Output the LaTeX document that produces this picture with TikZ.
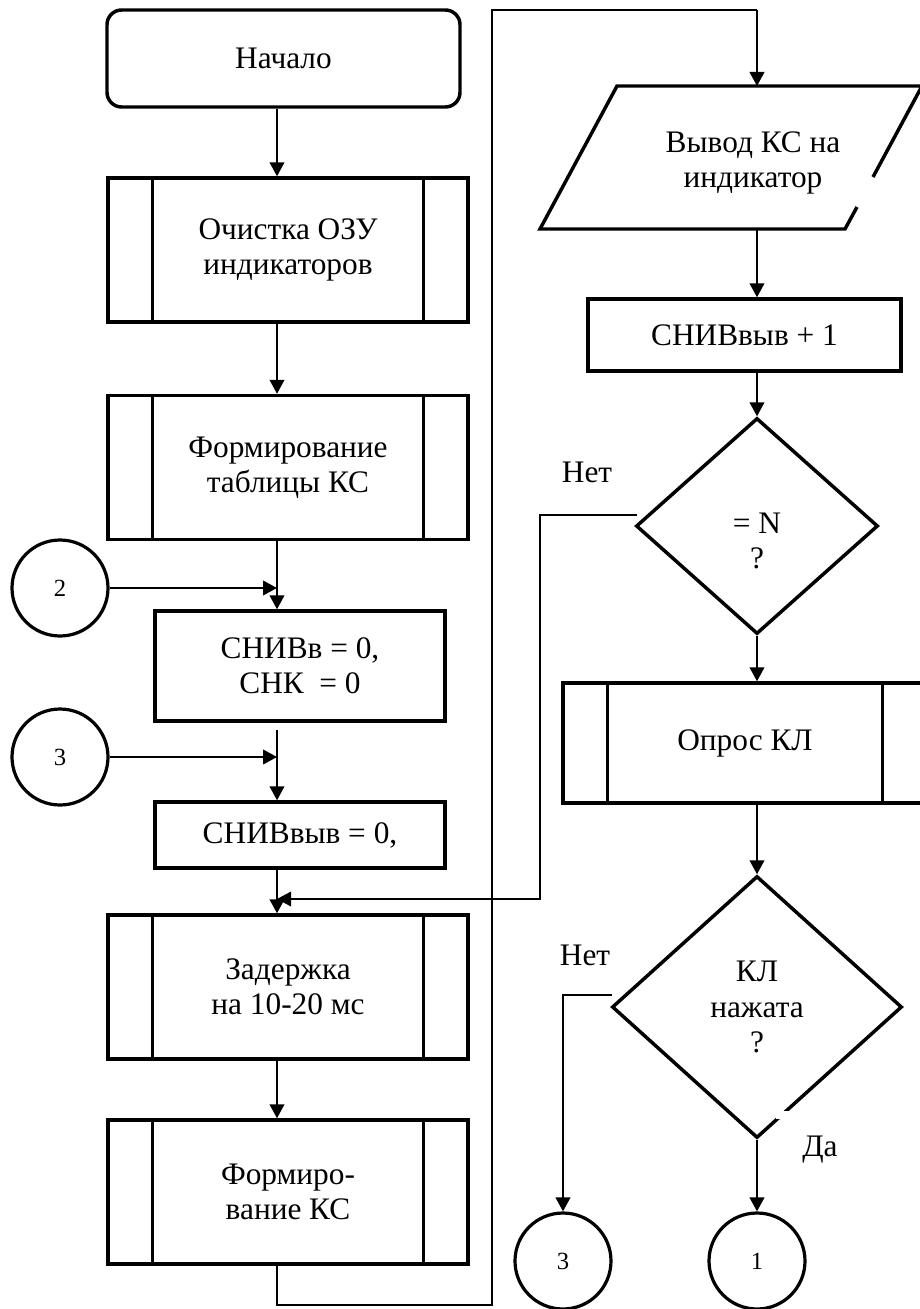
\documentclass[tikz,border=0pt]{standalone}
\usepackage{fontspec}
\setmainfont{Liberation Serif}
\usetikzlibrary{arrows.meta,shapes.geometric}
\begin{document}
\begin{tikzpicture}[x=0.75pt,y=-0.75pt,
  every node/.style={inner sep=0pt, align=center, font=\fontsize{23.5}{26.5}\selectfont},
  sz/.style 2 args={minimum width=#1*0.75pt, minimum height=#2*0.75pt},
  bx/.style={draw, line width=2.6pt},
  terminal/.style={bx, rounded corners=11pt},
  procbox/.style={bx, rectangle},
  subbox/.style={procbox, path picture={
     \draw[line width=2.6pt]
       ([xshift=33.5pt]path picture bounding box.north west) -- ([xshift=33.5pt]path picture bounding box.south west)
       ([xshift=-33.5pt]path picture bounding box.north east) -- ([xshift=-33.5pt]path picture bounding box.south east);}},
  decision/.style={bx, diamond},
  connector/.style={draw, circle, line width=2.4pt, minimum size=96*0.75pt, font=\fontsize{18.5}{20}\selectfont},
  flow/.style={line width=1.5pt, -{Triangle[width=11pt,length=10.5pt]}},
  loopline/.style={line width=1pt},
  looparrow/.style={line width=1pt, -{Triangle[width=11pt,length=10.5pt]}}
]
\useasboundingbox (0,0) rectangle (920,1309);
\clip (0,0) rectangle (920,1309);

% column axes
\coordinate (colL) at (277,0);
\coordinate (colR) at (757,0);

% left column
\node[terminal, sz={353}{97}] (start) at (283.5,58.5) {Начало};
\node[subbox, sz={360}{144}] (clear) at (288,250) {Очистка ОЗУ\\индикаторов};
\node[subbox, sz={360}{144}] (table) at (288,467.5) {Формирование\\таблицы КС};
\node[connector] (c2) at (60,588) {2};
\node[procbox, sz={290}{110}] (init) at (300,666) {СНИВв = 0,\\СНК~ = 0};
\node[connector] (c3) at (60,757) {3};
\node[procbox, sz={290}{66}] (zero) at (300,835) {СНИВвыв = 0,};
\node[subbox, sz={360}{144}] (delay) at (288,987) {Задержка\\на 10-20 мс};
\node[subbox, sz={360}{144}] (form) at (288,1192) {Формиро-\\вание КС};

% right column: output block (parallelogram with a break in its right side)
\coordinate (pA) at (540,229);
\coordinate (pB) at (617,86);
\coordinate (pC) at (922,86);
\coordinate (pD) at (845,229);
\coordinate (pE) at (857,207);
\coordinate (pF) at (873,177);
\draw[line width=2.6pt] (pE) -- (pD) -- (pA) -- (pB) -- (pC) -- (pF);
\node (show) at (753,163) {Вывод КС на\\индикатор};
\coordinate (showin) at (757,86);
\coordinate (showout) at (757,229);

\node[procbox, sz={313}{72}] (inc) at (744.5,335) {СНИВвыв + 1};
\node[decision, sz={242}{216}] (d1) at (757,526) {};
\node (d1t) at (757,541) {= N\\?};
\node[subbox, sz={364}{120}] (poll) at (745,743) {Опрос КЛ};
\node[decision, sz={290}{262}] (d2) at (757,1007) {КЛ\\нажата\\?};
\node[connector] (c3b) at (563,1261) {3};
\node[connector] (c1) at (757,1261) {1};

\node (no1) at (587,472) {Нет};
\node (no2) at (585,955) {Нет};
\node (yes) at (820,1150) {Да};

% main flow, left column
\draw[flow] (start.south -| colL) -- (clear.north -| colL);
\draw[flow] (clear.south -| colL) -- (table.north -| colL);
\draw[flow] (table.south -| colL) -- (init.north -| colL);
\draw[flow] (c2.east) -- (c2.east -| colL);
\coordinate (gapL) at (277,730);
\draw[flow] (gapL) -- (zero.north -| colL);
\draw[flow] (c3.east) -- (c3.east -| colL);
\draw[flow] (zero.south -| colL) -- (delay.north -| colL);
\draw[flow] (delay.south -| colL) -- (form.north -| colL);

% transfer to the right column
\coordinate (lb) at (277,1305);
\coordinate (lc) at (492,1305);
\coordinate (ld) at (492,10);
\draw[loopline] (form.south -| colL) -- (lb) -- (lc) -- (ld) -- (ld -| colR);
\draw[flow] (ld -| colR) -- (showin);

% main flow, right column
\draw[flow] (showout) -- (inc.north -| colR);
\draw[flow] (inc.south -| colR) -- (d1.north);
\draw[flow] (d1.south) -- (poll.north -| colR);
\draw[flow] (poll.south -| colR) -- (d2.north);
\draw[flow] (d2.south) -- (c1.north);

% "Нет" branch of = N back to the delay
\coordinate (n1a) at (637,515);
\coordinate (n1b) at (540,515);
\coordinate (n1c) at (540,899);
\draw[looparrow] (n1a) -- (n1b) -- (n1c) -- (n1c -| colL);

% "Нет" branch of the key test
\coordinate (n2a) at (612,995);
\coordinate (n2b) at (563,995);
\draw[flow] (n2a) -- (n2b) -- (c3b.north);

% small break in the key-test outline
\fill[white] (776,1111) rectangle (792,1119);
\end{tikzpicture}
\end{document}
